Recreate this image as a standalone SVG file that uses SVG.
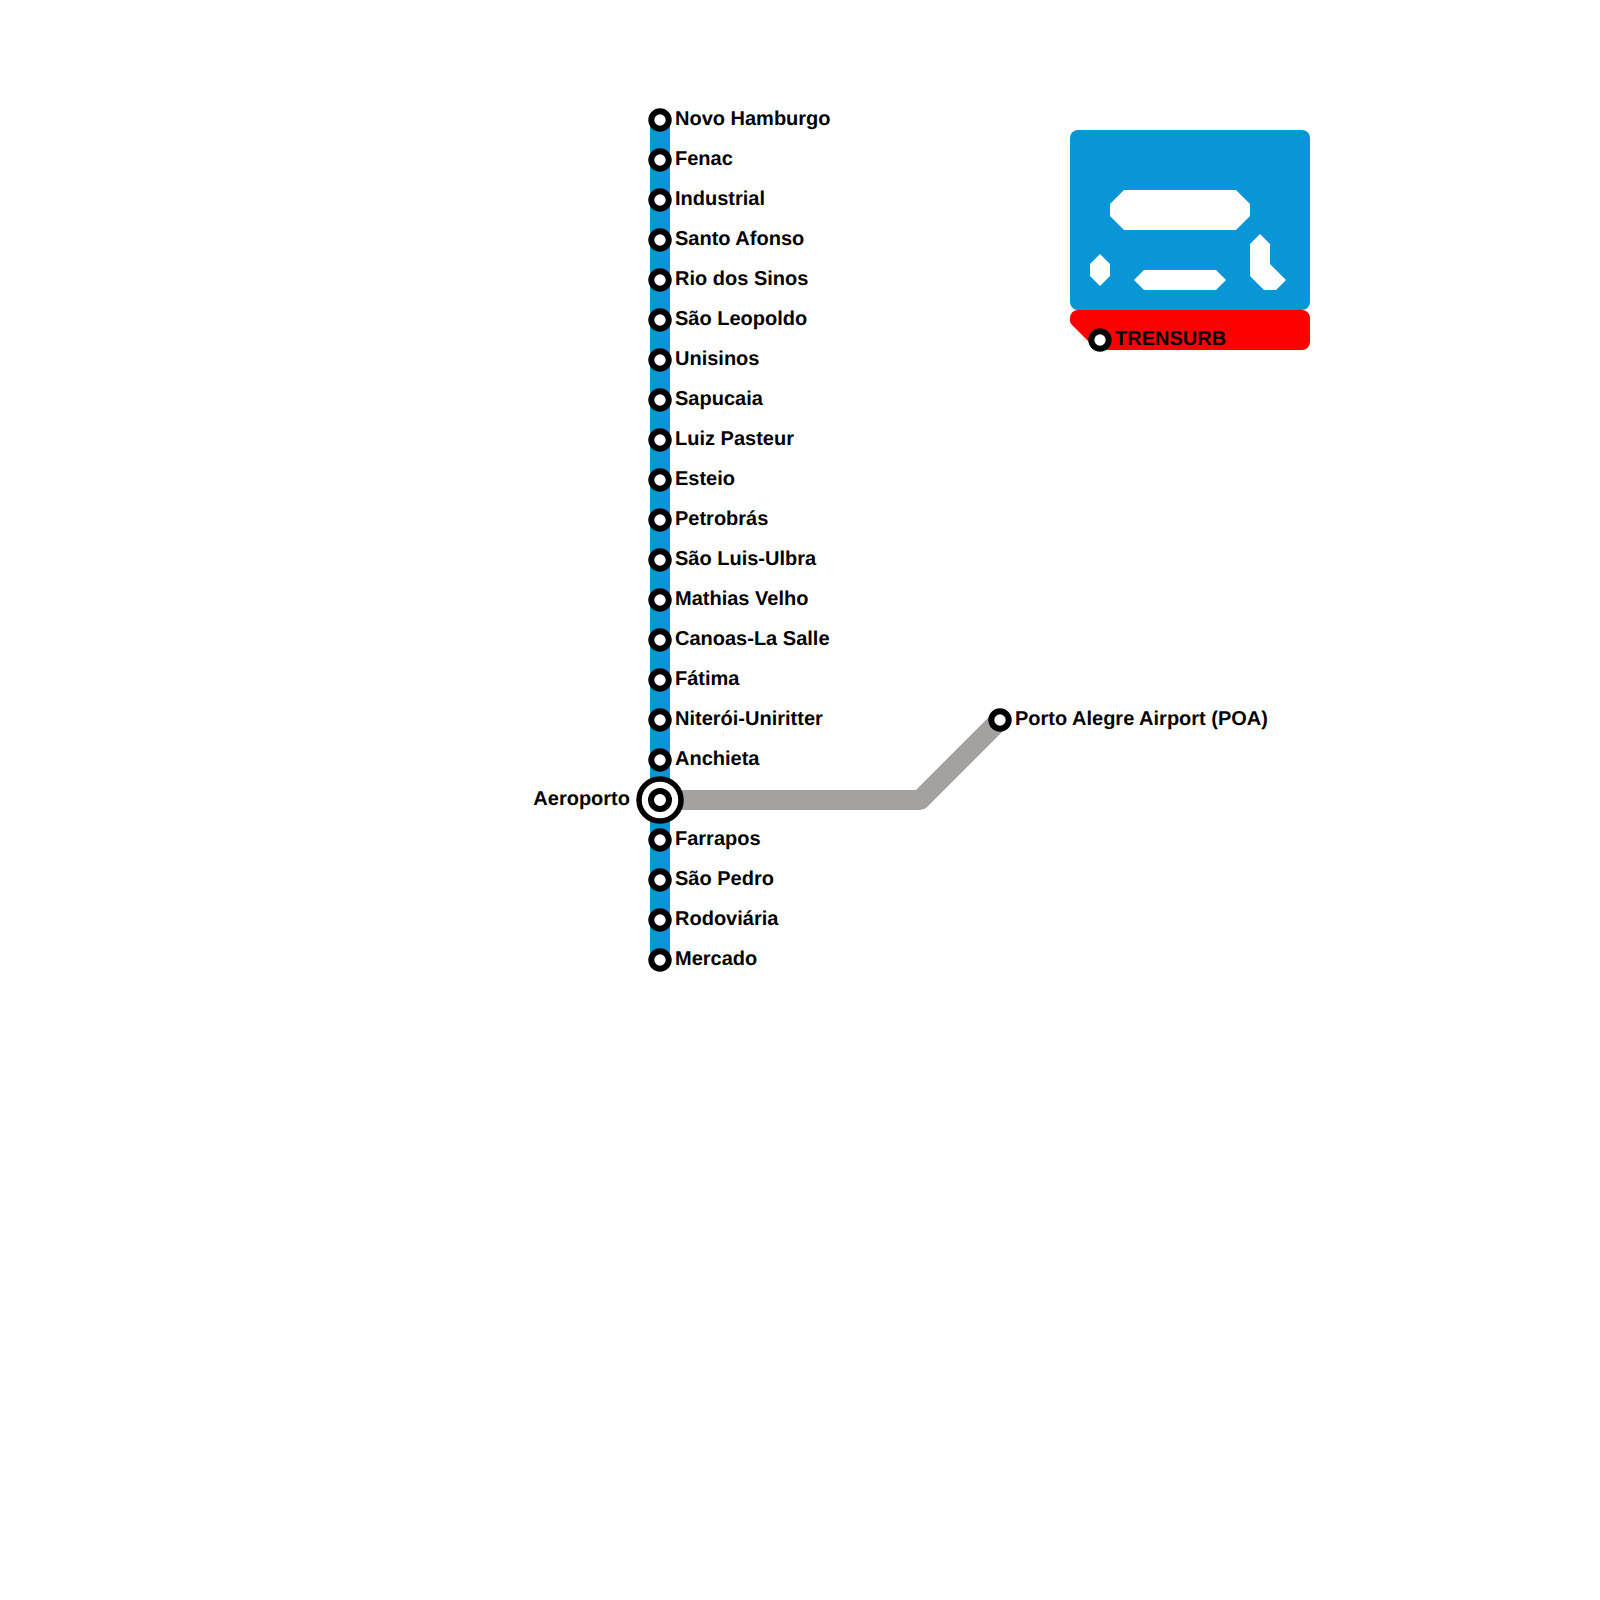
<svg xmlns="http://www.w3.org/2000/svg" width="1600" height="1600" viewBox="0 0 1600 1600">
<style>
.l{font-family:"Liberation Sans",Arial,sans-serif;font-weight:700;font-size:20px;fill:#000;text-rendering:geometricPrecision}
.s{fill:#fff;stroke:#000;stroke-width:6}
.w{fill:#fff}
.t{fill:none;stroke-width:20;stroke-linejoin:round}
</style>
<rect width="1600" height="1600" fill="#fff"/>
<g id="logo">
<path d="M1078 310H1302a8 8 0 0 1 8 8V342a8 8 0 0 1-8 8H1097L1072.3 325.3A8 8 0 0 1 1070 318A8 8 0 0 1 1078 310Z" fill="#f00"/>
<rect x="1070" y="130" width="240" height="180" rx="8" fill="#0896d7"/>
<polygon class="w" points="1124,190 1236,190 1250,204 1250,216 1236,230 1124,230 1110,216 1110,204"/>
<polygon class="w" points="1100,254 1110,264 1110,276 1100,286 1090,276 1090,264"/>
<polygon class="w" points="1144,270 1216,270 1226,280 1216,290 1144,290 1134,280"/>
<polygon class="w" points="1260,234 1270,244 1270,264 1286,280 1276,290 1264,290 1250,276 1250,244"/>
</g>
<g id="connectors">
<path class="t" stroke="#0896d7" d="M660 120V960"/>
<path class="t" stroke="#a5a1a0" d="M660 800H920L1000 720"/>
</g>
<g id="st-novo-hamburgo"><circle class="s" cx="660" cy="120" r="8.7"/><text class="l" x="675" y="125">Novo Hamburgo</text></g>
<g id="st-fenac"><circle class="s" cx="660" cy="160" r="8.7"/><text class="l" x="675" y="165">Fenac</text></g>
<g id="st-industrial"><circle class="s" cx="660" cy="200" r="8.7"/><text class="l" x="675" y="205">Industrial</text></g>
<g id="st-santo-afonso"><circle class="s" cx="660" cy="240" r="8.7"/><text class="l" x="675" y="245">Santo Afonso</text></g>
<g id="st-rio-dos-sinos"><circle class="s" cx="660" cy="280" r="8.7"/><text class="l" x="675" y="285">Rio dos Sinos</text></g>
<g id="st-sao-leopoldo"><circle class="s" cx="660" cy="320" r="8.7"/><text class="l" x="675" y="325">São Leopoldo</text></g>
<g id="st-unisinos"><circle class="s" cx="660" cy="360" r="8.7"/><text class="l" x="675" y="365">Unisinos</text></g>
<g id="st-sapucaia"><circle class="s" cx="660" cy="400" r="8.7"/><text class="l" x="675" y="405">Sapucaia</text></g>
<g id="st-luiz-pasteur"><circle class="s" cx="660" cy="440" r="8.7"/><text class="l" x="675" y="445">Luiz Pasteur</text></g>
<g id="st-esteio"><circle class="s" cx="660" cy="480" r="8.7"/><text class="l" x="675" y="485">Esteio</text></g>
<g id="st-petrobras"><circle class="s" cx="660" cy="520" r="8.7"/><text class="l" x="675" y="525">Petrobrás</text></g>
<g id="st-sao-luis-ulbra"><circle class="s" cx="660" cy="560" r="8.7"/><text class="l" x="675" y="565">São Luis-Ulbra</text></g>
<g id="st-mathias-velho"><circle class="s" cx="660" cy="600" r="8.7"/><text class="l" x="675" y="605">Mathias Velho</text></g>
<g id="st-canoas-la-salle"><circle class="s" cx="660" cy="640" r="8.7"/><text class="l" x="675" y="645">Canoas-La Salle</text></g>
<g id="st-fatima"><circle class="s" cx="660" cy="680" r="8.7"/><text class="l" x="675" y="685">Fátima</text></g>
<g id="st-niteroi-uniritter"><circle class="s" cx="660" cy="720" r="8.7"/><text class="l" x="675" y="725">Niterói-Uniritter</text></g>
<g id="st-anchieta"><circle class="s" cx="660" cy="760" r="8.7"/><text class="l" x="675" y="765">Anchieta</text></g>
<g id="st-aeroporto"><circle cx="660" cy="800" r="21" fill="#fff" stroke="#000" stroke-width="5.5"/><circle class="s" cx="660" cy="800" r="9"/><text class="l" x="630" y="805" text-anchor="end">Aeroporto</text></g>
<g id="st-farrapos"><circle class="s" cx="660" cy="840" r="8.7"/><text class="l" x="675" y="845">Farrapos</text></g>
<g id="st-sao-pedro"><circle class="s" cx="660" cy="880" r="8.7"/><text class="l" x="675" y="885">São Pedro</text></g>
<g id="st-rodoviaria"><circle class="s" cx="660" cy="920" r="8.7"/><text class="l" x="675" y="925">Rodoviária</text></g>
<g id="st-mercado"><circle class="s" cx="660" cy="960" r="8.7"/><text class="l" x="675" y="965">Mercado</text></g>
<g id="st-porto-alegre-airport"><circle class="s" cx="1000" cy="720" r="8.7"/><text class="l" x="1015" y="725">Porto Alegre Airport (POA)</text></g>
<g id="st-trensurb"><circle class="s" cx="1100" cy="340" r="8.7"/><text class="l" x="1115" y="345">TRENSURB</text></g>
</svg>
